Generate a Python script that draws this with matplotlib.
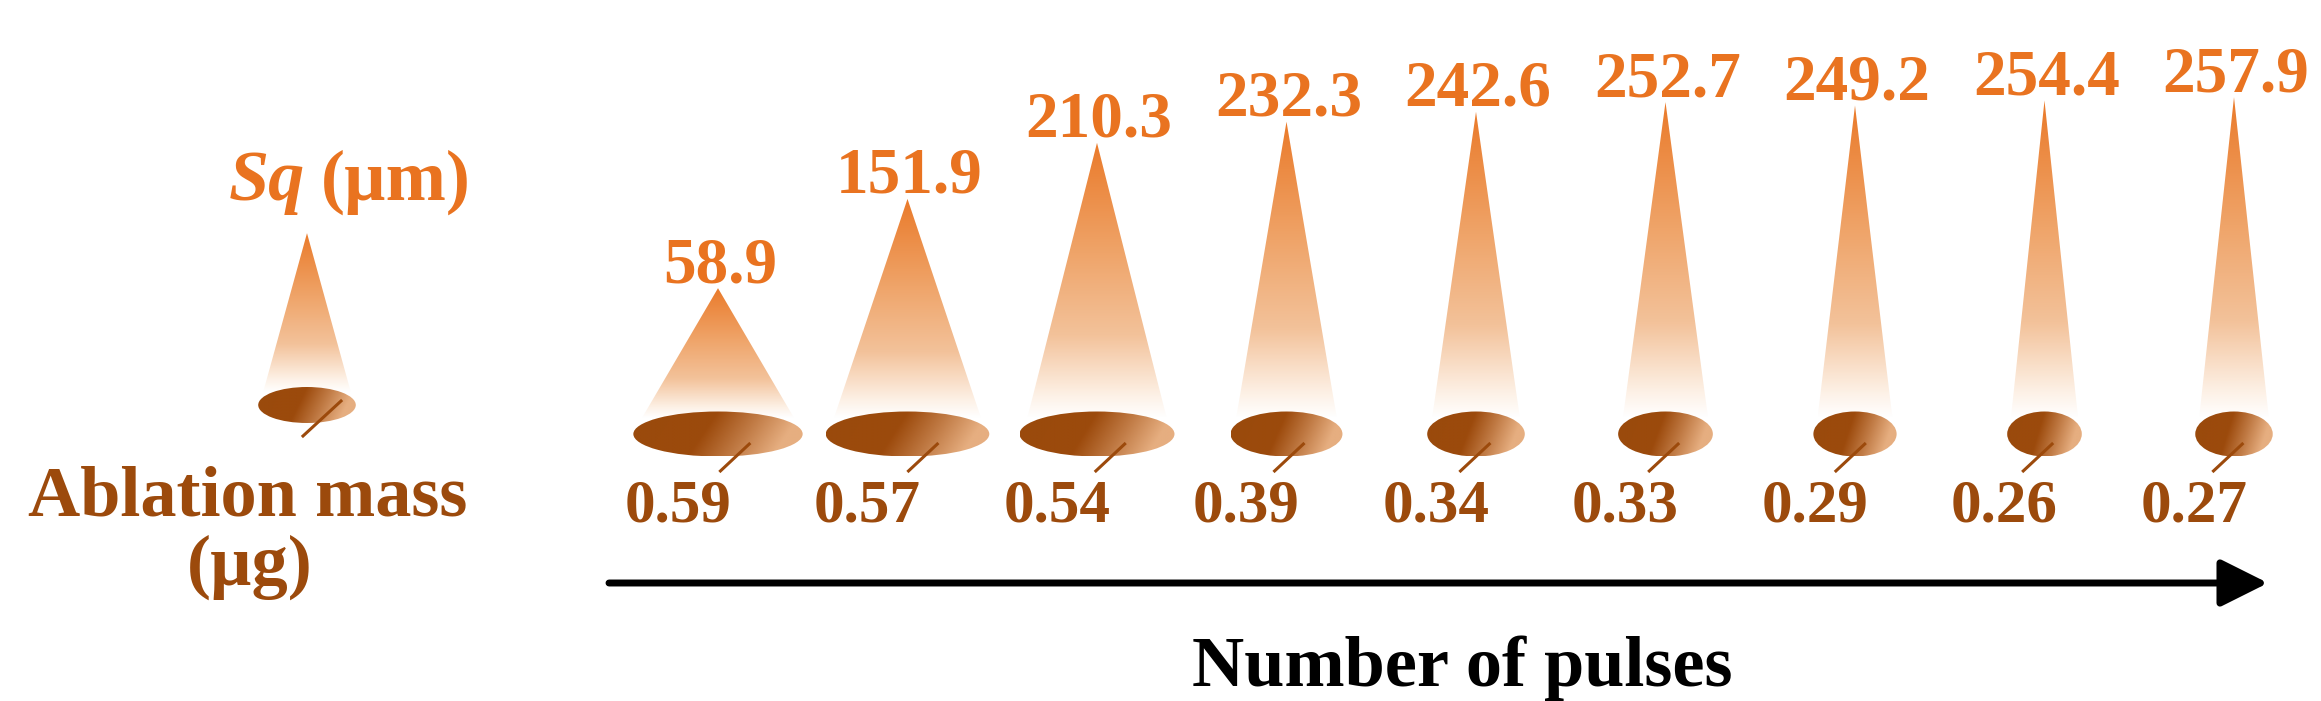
import numpy as np
import matplotlib
matplotlib.use("Agg")
import matplotlib.pyplot as plt
from matplotlib.patches import Polygon, Ellipse
from matplotlib.colors import LinearSegmentedColormap

# data
sq_values = [58.9, 151.9, 210.3, 232.3, 242.6, 252.7, 249.2, 254.4, 257.9]
sq_labels = ["58.9", "151.9", "210.3", "232.3", "242.6", "252.7", "249.2", "254.4", "257.9"]
ablation_mass = [0.59, 0.57, 0.54, 0.39, 0.34, 0.33, 0.29, 0.26, 0.27]
mass_labels = ["0.59", "0.57", "0.54", "0.39", "0.34", "0.33", "0.29", "0.26", "0.27"]
legend_sq = 86.0
legend_mass = 0.34

ORANGE = "#E97320"
BROWN = "#9C4A0C"
FONT = "Liberation Serif"

# scales: pixels per unit
X_PX = 189.5      # px per pulse step
Y_PX = 0.96       # px per um
CONE_OFFSET = 93  # cone height = value + offset
MASS_PX = 287.0   # ellipse width px per ug

def px_x(p):
    return p / X_PX

def px_y(p):
    return p / Y_PX

cone_cmap = LinearSegmentedColormap.from_list(
    "cone", [(0.0, "#FFFFFF"), (0.08, "#FDF1E6"), (0.3, "#F3C29A"),
             (0.6, "#EFA469"), (1.0, "#EA7A2A")])
disc_cmap = LinearSegmentedColormap.from_list(
    "disc", [(0.0, "#9A4A0C"), (0.5, "#9C4A0C"), (0.75, "#C07A44"), (1.0, "#E6AE80")])

fig = plt.figure(figsize=(23.21, 7.01), dpi=100)
ax = fig.add_axes([0, 0, 1, 1])
ax.set_axis_off()


def draw_cone(ax, x, base_y, height, disc_w, disc_h):
    hw = disc_w * 0.45
    by = base_y + disc_h * 0.35
    top = base_y + height
    tri = Polygon([[x - hw, by], [x + hw, by], [x, top]], closed=True,
                  facecolor="none", edgecolor="none")
    ax.add_patch(tri)
    grad = np.linspace(1, 0, 256).reshape(-1, 1)
    im = ax.imshow(grad, cmap=cone_cmap, extent=[x - hw, x + hw, by, top],
                   aspect="auto", interpolation="bilinear", origin="upper", zorder=2)
    im.set_clip_path(tri)

    el = Ellipse((x, base_y), disc_w, disc_h, facecolor="none", edgecolor="none")
    ax.add_patch(el)
    u = np.linspace(0, 1, 200)
    v = np.linspace(1, 0, 60)
    U, V = np.meshgrid(u, v)
    t = np.clip(U + 0.175 * (1 - V), 0, 1)
    im2 = ax.imshow(t, cmap=disc_cmap, vmin=0, vmax=1,
                    extent=[x - disc_w / 2, x + disc_w / 2, base_y - disc_h / 2, base_y + disc_h / 2],
                    aspect="auto", interpolation="bilinear", origin="upper", zorder=3)
    im2.set_clip_path(el)


# main cones
for i, (sq, m) in enumerate(zip(sq_values, ablation_mass)):
    w_px = m * MASS_PX
    disc_w = px_x(w_px)
    disc_h = px_y(45)
    draw_cone(ax, i, 0, sq + CONE_OFFSET, disc_w, disc_h)
    # leader line
    sx = i + px_x(0.25 * w_px - 10)
    sy = -px_y(9)
    ex = sx - px_x(31)
    ey = sy - px_y(29)
    ax.plot([sx, ex], [sy, ey], color=BROWN, lw=2.2, zorder=4, solid_capstyle="butt")
    ax.text(i - px_x(40), -px_y(521 - 434), mass_labels[i], ha="center", va="baseline",
            fontsize=44, fontweight="bold", family=FONT, color=BROWN)
    ax.text(i + px_x(2), sq + CONE_OFFSET + px_y(6), sq_labels[i], ha="center", va="baseline",
            fontsize=47, fontweight="bold", family=FONT, color=ORANGE)

# legend cone
lx = -px_x(718 - 307)
ly = px_y(434 - 405)
lw_px = legend_mass * MASS_PX
draw_cone(ax, lx, ly, legend_sq + CONE_OFFSET, px_x(lw_px), px_y(36))
ax.plot([lx + px_x(34), lx - px_x(4)], [ly + px_y(4), ly - px_y(31)],
        color=BROWN, lw=2.2, zorder=4)

ax.text(lx - px_x(2), px_y(434 - 200), "Sq", ha="right", va="baseline", fontsize=52,
        fontweight="bold", fontstyle="italic", family=FONT, color=ORANGE)
ax.text(lx + px_x(14), px_y(434 - 200), "(µm)", ha="left", va="baseline", fontsize=52,
        fontweight="bold", family=FONT, color=ORANGE)
ax.text(-px_x(718 - 248), -px_y(515 - 434), "Ablation mass", ha="center", va="baseline",
        fontsize=52, fontweight="bold", family=FONT, color=BROWN)
ax.text(-px_x(718 - 250), -px_y(585 - 434), "(µg)", ha="center", va="baseline",
        fontsize=52, fontweight="bold", family=FONT, color=BROWN)

# pulse arrow
n = len(sq_values)
arrow_y = -px_y(583 - 434)
ax.annotate("", xy=(n - 1 + px_x(34), arrow_y), xytext=(-px_x(109), arrow_y),
            arrowprops=dict(arrowstyle="-|>,head_length=1.0,head_width=0.5",
                            mutation_scale=29, lw=5, color="black",
                            shrinkA=0, shrinkB=0))
ax.text(px_x(1462 - 718), -px_y(686 - 434), "Number of pulses", ha="center", va="baseline",
        fontsize=52, fontweight="bold", family=FONT, color="black")

ax.set_xlim(-px_x(718), px_x(2321 - 718))
ax.set_ylim(-px_y(701 - 434), px_y(434))

fig.savefig("out.png", dpi=100, facecolor="white")
